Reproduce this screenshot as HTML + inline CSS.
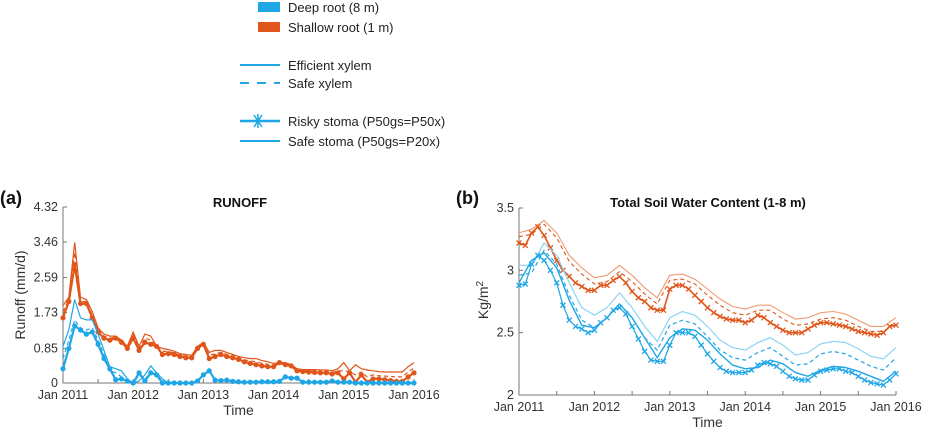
<!DOCTYPE html>
<html><head><meta charset="utf-8"><style>
body{margin:0;background:#fff;width:930px;height:434px;overflow:hidden;font-family:"Liberation Sans",sans-serif}
svg text{font-family:"Liberation Sans",sans-serif}
</style></head><body>
<svg id="fig" width="930" height="434">
<g id="legend">
 <rect x="258" y="2" width="22" height="10" fill="#1ea6e6"/>
 <text x="288" y="12" font-size="13" fill="#222">Deep root (8 m)</text>
 <rect x="258" y="22" width="22" height="10" fill="#e0561a"/>
 <text x="288" y="32" font-size="13" fill="#222">Shallow root  (1 m)</text>
 <line x1="240" y1="65" x2="280" y2="65" stroke="#1ea6e6" stroke-width="2"/>
 <text x="288" y="70" font-size="13" fill="#222">Efficient xylem</text>
 <line x1="240" y1="83" x2="280" y2="83" stroke="#1ea6e6" stroke-width="2" stroke-dasharray="9,8"/>
 <text x="288" y="88" font-size="13" fill="#222">Safe xylem</text>
 <line x1="240" y1="121" x2="280" y2="121" stroke="#1ea6e6" stroke-width="2.5"/>
 <path d="M254,115 L262,127 M254,127 L262,115 M258,114 L258,128" stroke="#1ea6e6" stroke-width="1.5"/>
 <text x="288" y="126" font-size="13" fill="#222">Risky stoma (P50gs=P50x)</text>
 <line x1="240" y1="141" x2="280" y2="141" stroke="#1ea6e6" stroke-width="2"/>
 <text x="288" y="146" font-size="13" fill="#222">Safe stoma (P50gs=P20x)</text>
</g>
<g id="pa"></g>
<g id="pb"></g>
</svg>
<script>
// Panel a: runoff (mm/d), monthly Jan 2011 .. Jan 2016
const aYTicks=[0,0.85,1.73,2.59,3.46,4.32];
const xTickLabels=["Jan 2011","Jan 2012","Jan 2013","Jan 2014","Jan 2015","Jan 2016"];
const aOrangeEff=[1.9,2.1,3.45,2.1,2.05,1.75,1.35,1.2,1.15,1.15,1.05,0.9,1.25,0.9,1.2,1.15,0.9,0.85,0.82,0.78,0.72,0.7,0.68,0.9,1.0,0.75,0.8,0.8,0.75,0.7,0.65,0.62,0.6,0.6,0.55,0.52,0.48,0.5,0.5,0.45,0.35,0.33,0.33,0.33,0.32,0.32,0.3,0.35,0.5,0.3,0.45,0.35,0.32,0.3,0.28,0.27,0.27,0.27,0.27,0.4,0.5];
const aOrangeSafe=[1.75,2.05,3.2,2.0,2.0,1.65,1.3,1.15,1.1,1.12,1.02,0.88,1.18,0.85,1.1,1.05,0.9,0.78,0.77,0.74,0.68,0.66,0.65,0.88,0.98,0.68,0.72,0.75,0.7,0.66,0.62,0.57,0.54,0.52,0.48,0.46,0.44,0.5,0.48,0.44,0.32,0.3,0.3,0.29,0.28,0.28,0.26,0.3,0.3,0.28,0.2,0.27,0.15,0.2,0.18,0.17,0.16,0.15,0.15,0.27,0.37];
const aOrangeRisky=[1.6,2.0,2.9,1.95,1.95,1.6,1.25,1.1,1.05,1.1,1.0,0.85,1.1,0.8,1.0,0.95,0.9,0.7,0.72,0.7,0.65,0.62,0.62,0.85,0.95,0.6,0.65,0.7,0.65,0.62,0.58,0.52,0.48,0.45,0.42,0.4,0.4,0.5,0.45,0.42,0.3,0.28,0.27,0.26,0.25,0.25,0.22,0.25,0.1,0.25,0.02,0.2,0.02,0.1,0.1,0.08,0.06,0.04,0.04,0.15,0.25];
const aBlueEff=[0.9,1.3,2.05,1.6,1.55,1.55,1.2,0.8,0.4,0.35,0.3,0.1,0.0,0.05,0.2,0.42,0.25,0.1,0,0,0,0,0,0.05,0.2,0.3,0.07,0.06,0.07,0.04,0.03,0.02,0.02,0.02,0.03,0.03,0.03,0.04,0.15,0.12,0.12,0.02,0.02,0.02,0.02,0.02,0.05,0.02,0.02,0.02,0,0,0,0,0,0,0,0,0,0,0];
const aBlueSafe=[0.6,1.05,1.55,1.35,1.3,1.35,1.05,0.7,0.3,0.25,0.15,0.05,0.0,0.2,0.08,0.3,0.22,0.02,0,0,0,0,0,0.05,0.2,0.3,0.07,0.06,0.07,0.04,0.03,0.02,0.02,0.02,0.03,0.03,0.03,0.04,0.15,0.12,0.12,0.02,0.02,0.02,0.02,0.02,0.05,0.02,0.02,0.02,0,0,0,0,0,0,0,0,0,0,0];
const aBlueRisky=[0.35,0.85,1.4,1.3,1.2,1.25,0.95,0.6,0.35,0.08,0.1,0.05,0.0,0.25,0.05,0.25,0.2,0,0,0,0,0,0,0.05,0.2,0.3,0.07,0.06,0.07,0.04,0.03,0.02,0.02,0.02,0.03,0.03,0.03,0.04,0.15,0.12,0.12,0.02,0.02,0.02,0.02,0.02,0.05,0.02,0.02,0.02,0,0,0,0,0,0,0,0,0,0,0];
// Panel b: soil water (Kg/m2)
const bYTicks=[2,2.5,3,3.5];
const bOrangeEff=[3.3,3.33,3.4,3.3,3.12,3.02,2.94,2.96,3.04,2.96,2.86,2.78,2.96,2.97,2.93,2.85,2.77,2.71,2.69,2.72,2.72,2.66,2.61,2.62,2.66,2.67,2.65,2.6,2.55,2.55,2.62];
const bOrangeSafe=[3.27,3.29,3.37,3.26,3.07,2.97,2.89,2.91,2.99,2.91,2.81,2.73,2.92,2.93,2.89,2.8,2.72,2.66,2.64,2.68,2.68,2.61,2.56,2.57,2.61,2.62,2.6,2.55,2.51,2.51,2.58];
const bOrangeRisky=[3.22,3.2,3.3,3.35,3.28,3.18,3.08,3.0,2.95,2.9,2.87,2.84,2.84,2.88,2.88,2.92,2.95,2.9,2.83,2.78,2.75,2.7,2.68,2.68,2.85,2.88,2.88,2.85,2.8,2.75,2.7,2.66,2.63,2.61,2.6,2.6,2.58,2.6,2.64,2.62,2.58,2.55,2.52,2.5,2.5,2.5,2.53,2.56,2.58,2.58,2.57,2.56,2.55,2.53,2.51,2.5,2.49,2.48,2.5,2.55,2.56];
const bBlueEff=[3.04,3.04,3.22,3.12,2.9,2.7,2.64,2.7,2.82,2.7,2.55,2.43,2.62,2.67,2.64,2.55,2.44,2.38,2.36,2.42,2.46,2.4,2.32,2.34,2.41,2.43,2.42,2.37,2.31,2.29,2.38];
const bBlueSafe=[2.96,2.98,3.16,3.05,2.8,2.6,2.54,2.62,2.73,2.62,2.46,2.36,2.56,2.6,2.57,2.47,2.36,2.3,2.28,2.34,2.38,2.31,2.24,2.25,2.33,2.35,2.33,2.28,2.23,2.2,2.3];
const bBlueSafeStoma=[2.9,3.08,3.14,3.02,2.76,2.56,2.54,2.62,2.73,2.62,2.46,2.3,2.46,2.53,2.52,2.44,2.33,2.24,2.21,2.22,2.28,2.25,2.18,2.15,2.2,2.23,2.22,2.19,2.15,2.11,2.19];
const bBlueRisky=[2.88,2.89,3.05,3.12,3.08,3.0,2.9,2.72,2.6,2.55,2.53,2.5,2.52,2.58,2.62,2.68,2.7,2.65,2.55,2.45,2.35,2.28,2.27,2.27,2.4,2.5,2.5,2.5,2.47,2.4,2.33,2.27,2.22,2.19,2.18,2.18,2.18,2.2,2.24,2.26,2.25,2.23,2.19,2.15,2.13,2.12,2.12,2.16,2.19,2.2,2.21,2.21,2.19,2.18,2.15,2.12,2.1,2.09,2.08,2.12,2.17];

const NS="http://www.w3.org/2000/svg";
const OR="#e0561a",ORL="#ef9a72",BL="#1ea6e6",BLL="#8ed3f4";
function mk(p,tag,attrs){const e=document.createElementNS(NS,tag);for(const k in attrs)e.setAttribute(k,attrs[k]);p.appendChild(e);return e;}
function panel(g,L,R,T,B,ymin,ymax,yt,ytf){
  const sx=m=>L+m*(R-L)/60, sy=v=>B-(v-ymin)/(ymax-ymin)*(B-T);
  const ax=mk(g,'path',{d:`M${L},${T} L${L},${B} L${R},${B}`,stroke:'#777',fill:'none','stroke-width':1});
  
  
  yt.forEach(v=>{mk(g,'line',{x1:L,x2:L+4,y1:sy(v),y2:sy(v),stroke:'#777'});
    const t=mk(g,'text',{x:L-5,y:sy(v)+4,'font-size':12.5,'text-anchor':'end',fill:'#333'});t.textContent=ytf(v);
    
    });
  for(let m=0;m<=60;m+=6){mk(g,'line',{x1:sx(m),x2:sx(m),y1:B,y2:B-4,stroke:'#777'});}
  xTickLabels.forEach((s,i)=>{const t=mk(g,'text',{x:sx(i*12),y:B+16,'font-size':12.5,'text-anchor':'middle',fill:'#333'});t.textContent=s;
    
    });
  const xt=mk(g,'text',{x:(L+R)/2,y:B+32,'font-size':14,'text-anchor':'middle',fill:'#333'});xt.textContent='Time';
  
  
  return {sx,sy};
}
function line(g,s,arr,step,col,w,dash,name){
  const pts=arr.map((v,i)=>s.sx(i*step).toFixed(1)+','+s.sy(v).toFixed(1)).join(' ');
  const p=mk(g,'polyline',{points:pts,fill:'none',stroke:col,'stroke-width':w});
  if(dash)p.setAttribute('stroke-dasharray',dash);
  
  
}
function markers(g,s,arr,col,type,name){
  arr.forEach((v,i)=>{const x=s.sx(i),y=s.sy(v);let e;
    if(type==='dot')e=mk(g,'circle',{cx:x,cy:y,r:2.6,fill:col});
    else e=mk(g,'path',{d:`M${x-2.5},${y-2.5}L${x+2.5},${y+2.5}M${x-2.5},${y+2.5}L${x+2.5},${y-2.5}`,stroke:col,'stroke-width':1.3});
    
    });
}
const ga=document.getElementById('pa');
const sa=panel(ga,63,414,207,383,0,4.32,aYTicks,v=>v===0?'0':v.toFixed(2));
let t=mk(ga,'text',{x:0,y:204,'font-size':18,'font-weight':'bold',fill:'#111'});t.textContent='(a)';


t=mk(ga,'text',{x:240,y:207,'font-size':13,'font-weight':'bold','text-anchor':'middle',fill:'#111'});t.textContent='RUNOFF';


t=mk(ga,'text',{x:0,y:0,'font-size':14,'text-anchor':'middle',fill:'#333',transform:'translate(25,295) rotate(-90)'});t.textContent='Runoff (mm/d)';


line(ga,sa,aOrangeEff,1,OR,1.2,null,'orange-efficient-line');
line(ga,sa,aOrangeSafe,1,OR,1.2,'4,3','orange-safe-line');
line(ga,sa,aOrangeRisky,1,OR,2.2,null,'orange-risky-line');
markers(ga,sa,aOrangeRisky,OR,'dot','orange-risky-marker');
line(ga,sa,aBlueEff,1,BL,1.2,null,'blue-efficient-line');
line(ga,sa,aBlueSafe,1,BL,1.2,'4,3','blue-safe-line');
line(ga,sa,aBlueRisky,1,BL,2.2,null,'blue-risky-line');
markers(ga,sa,aBlueRisky,BL,'dot','blue-risky-marker');

const gb=document.getElementById('pb');
const sb=panel(gb,519,896,208,395,2,3.5,bYTicks,v=>String(v));
t=mk(gb,'text',{x:456,y:204,'font-size':18,'font-weight':'bold',fill:'#111'});t.textContent='(b)';


t=mk(gb,'text',{x:708,y:207,'font-size':13,'font-weight':'bold','text-anchor':'middle',fill:'#111'});t.textContent='Total Soil Water Content (1-8 m)';


t=mk(gb,'text',{x:0,y:0,'font-size':14,'text-anchor':'middle',fill:'#333',transform:'translate(488,300) rotate(-90)'});t.innerHTML='Kg/m<tspan dy="-5" font-size="10">2</tspan>';


line(gb,sb,bOrangeEff,2,ORL,1.1,null,'orange-efficient-line');
line(gb,sb,bOrangeSafe,2,OR,1.1,'4,3','orange-safe-line');
line(gb,sb,bOrangeRisky,1,OR,1.6,null,'orange-risky-line');
markers(gb,sb,bOrangeRisky,OR,'x','orange-risky-marker');
line(gb,sb,bBlueEff,2,BLL,1.2,null,'blue-efficient-line');
line(gb,sb,bBlueSafe,2,BL,1.2,'4,3','blue-safe-line');
line(gb,sb,bBlueSafeStoma,2,BL,1.4,null,'blue-safe-stoma-line');
line(gb,sb,bBlueRisky,1,BL,1.2,null,'blue-risky-line');
markers(gb,sb,bBlueRisky,BL,'x','blue-risky-marker');
</script>
</body></html>
